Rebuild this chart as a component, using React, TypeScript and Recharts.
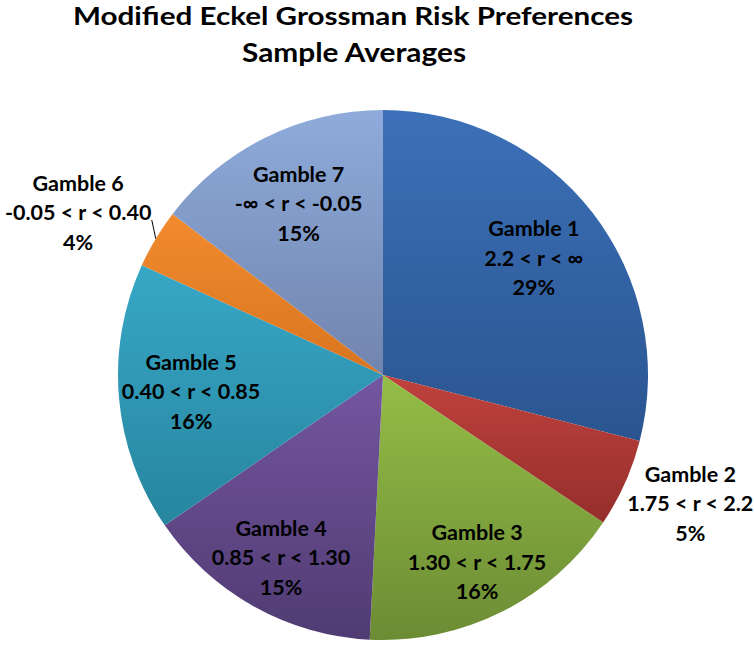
import React from 'react';
import { PieChart, Pie, Cell } from 'recharts';

const categories = ['Gamble 1', 'Gamble 2', 'Gamble 3', 'Gamble 4', 'Gamble 5', 'Gamble 6', 'Gamble 7'];
const ranges = [
  '2.2 < r < ∞',
  '1.75 < r < 2.2',
  '1.30 < r < 1.75',
  '0.85 < r < 1.30',
  '0.40 < r < 0.85',
  '-0.05 < r < 0.40',
  '-∞ < r < -0.05',
];
const shares = [29.0, 5.4, 16.4, 14.6, 16.4, 3.6, 14.6];
const topColors = ['#3c70b8', '#c0423e', '#94bd47', '#7456a0', '#37a7c6', '#f28b2e', '#8eabdb'];
const bottomColors = ['#2a5590', '#952e2b', '#6c8c34', '#503b72', '#27859f', '#d9741f', '#7184ad'];
const titleLines = ['Modified Eckel Grossman Risk Preferences', 'Sample Averages'];

const data = categories.map((name, i) => ({ name, range: ranges[i], value: shares[i] }));

const FONT = 'Lato, "Open Sans", sans-serif';
const LABEL_SIZE = 21.5;
const LINE_GAP = 29.5;

const renderLabel = (props: any) => {
  const { cx, cy, midAngle, outerRadius, percent, index, payload } = props;
  const rad = (midAngle * Math.PI) / 180;
  const s = Math.sin(rad);
  const c = Math.cos(rad);
  const lines = [payload.name, payload.range, `${Math.round(percent * 100)}%`];
  let lx: number;
  let ly: number;
  const outside = percent < 0.06;
  let leader: React.ReactNode = null;
  if (outside) {
    const longest = Math.max(...lines.map((l: string) => l.length));
    const halfW = longest * 4.6;
    const ex = cx + outerRadius * c;
    const ey = cy - outerRadius * s;
    lx = ex + Math.sign(c) * (halfW + (c > 0 ? 1 : 4));
    ly = ey - s * 50;
    if (percent < 0.05) {
      const sx = lx - Math.sign(c) * halfW;
      const sy = ly + 7;
      leader = <line x1={sx} y1={sy} x2={ex} y2={ey} stroke="#000" strokeWidth={1} />;
    }
  } else {
    const f = 0.72 + 0.08 * Math.max(0, -s);
    lx = cx + outerRadius * f * c;
    ly = cy - outerRadius * f * s;
  }
  return (
    <g key={`lbl-${index}`}>
      {leader}
      <text
        textAnchor="middle"
        fontFamily={FONT}
        fontWeight={700}
        fontSize={LABEL_SIZE}
        fill="#000"
      >
        {lines.map((l: string, i: number) => (
          <tspan key={i} x={lx} y={ly + 7.5 + (i - 1) * LINE_GAP}>
            {l}
          </tspan>
        ))}
      </text>
    </g>
  );
};

export default function App() {
  return (
    <div style={{ position: 'absolute', left: 0, top: 0, width: 754, height: 646, background: '#fff' }}>
      <PieChart width={754} height={646} margin={{ top: 0, right: 0, bottom: 0, left: 0 }}>
        <defs>
          {topColors.map((tc, i) => (
            <linearGradient key={i} id={`grad${i}`} x1="0" y1="0" x2="0" y2="1">
              <stop offset="0%" stopColor={tc} />
              <stop offset="100%" stopColor={bottomColors[i]} />
            </linearGradient>
          ))}
        </defs>
        <Pie
          data={data}
          dataKey="value"
          nameKey="name"
          cx={383}
          cy={375}
          outerRadius={265}
          innerRadius={0}
          startAngle={90}
          endAngle={-270}
          stroke="none"
          isAnimationActive={false}
          labelLine={false}
          label={renderLabel}
        >
          {data.map((d, i) => (
            <Cell key={d.name} fill={`url(#grad${i})`} />
          ))}
        </Pie>
      </PieChart>
      <svg width={754} height={90} style={{ position: 'absolute', left: 0, top: 0, pointerEvents: 'none' }}>
        <text x={353} y={25} textAnchor="middle" fontFamily={FONT} fontWeight={700} fontSize={25} fill="#000" textLength={560} lengthAdjust="spacingAndGlyphs">
          {titleLines[0]}
        </text>
        <text x={354} y={62} textAnchor="middle" fontFamily={FONT} fontWeight={700} fontSize={26} fill="#000" textLength={224} lengthAdjust="spacingAndGlyphs">
          {titleLines[1]}
        </text>
      </svg>
    </div>
  );
}
